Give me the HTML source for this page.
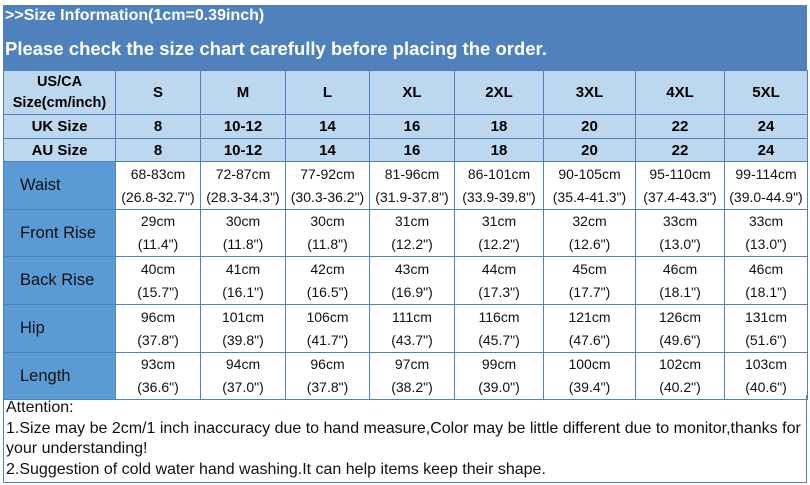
<!DOCTYPE html>
<html><head><meta charset="utf-8"><style>
*{margin:0;padding:0;box-sizing:border-box}
body{width:810px;height:485px;background:#fff;font-family:"Liberation Sans",Arial,sans-serif;position:relative;overflow:hidden}
.hd{position:absolute;left:3px;top:5px;width:804px;height:65px;background:#4f81bd;color:#fff;font-weight:bold}
.t1{position:absolute;left:2px;top:2px;font-size:16px}
.t2{position:absolute;left:2px;top:33px;font-size:18.5px}
table{position:absolute;left:3px;top:70px;border-collapse:collapse;table-layout:fixed}
td{border:1px solid #4f81bd;text-align:center;vertical-align:middle;padding:0}
.h td{background:#bdd7ee;font-weight:bold;font-size:15px;color:#000}
.h td.f{font-size:14.5px;line-height:21px}
.d td{font-size:14px;line-height:23px;color:#111}
.d td.l{background:#5b9bd5;color:#111;font-size:16.5px;text-align:left;padding-left:16px}
.att{position:absolute;left:3px;top:395px;width:804px;height:88px;border:1px solid #4f81bd;border-top:none;font-size:16px;line-height:20.7px;color:#111;padding-left:2px;padding-top:3px}
</style></head><body>
<div class="hd"><div class="t1">&gt;&gt;Size Information(1cm=0.39inch)</div><div class="t2">Please check the size chart carefully before placing the order.</div></div>
<table>
<colgroup><col style="width:112px"><col style="width:85px"><col style="width:85px"><col style="width:84px"><col style="width:85px"><col style="width:89px"><col style="width:92px"><col style="width:89px"><col style="width:83px"></colgroup>
<tr class="h" style="height:44px"><td class="f">US/CA<br>Size(cm/inch)</td><td>S</td><td>M</td><td>L</td><td>XL</td><td>2XL</td><td>3XL</td><td>4XL</td><td>5XL</td></tr>
<tr class="h" style="height:24px"><td>UK Size</td><td>8</td><td>10-12</td><td>14</td><td>16</td><td>18</td><td>20</td><td>22</td><td>24</td></tr>
<tr class="h" style="height:23px"><td>AU Size</td><td>8</td><td>10-12</td><td>14</td><td>16</td><td>18</td><td>20</td><td>22</td><td>24</td></tr>
<tr class="d" style="height:48px"><td class="l">Waist</td><td>68-83cm<br>(26.8-32.7")</td><td>72-87cm<br>(28.3-34.3")</td><td>77-92cm<br>(30.3-36.2")</td><td>81-96cm<br>(31.9-37.8")</td><td>86-101cm<br>(33.9-39.8")</td><td>90-105cm<br>(35.4-41.3")</td><td>95-110cm<br>(37.4-43.3")</td><td>99-114cm<br>(39.0-44.9")</td></tr>
<tr class="d" style="height:47px"><td class="l">Front Rise</td><td>29cm<br>(11.4")</td><td>30cm<br>(11.8")</td><td>30cm<br>(11.8")</td><td>31cm<br>(12.2")</td><td>31cm<br>(12.2")</td><td>32cm<br>(12.6")</td><td>33cm<br>(13.0")</td><td>33cm<br>(13.0")</td></tr>
<tr class="d" style="height:48px"><td class="l">Back Rise</td><td>40cm<br>(15.7")</td><td>41cm<br>(16.1")</td><td>42cm<br>(16.5")</td><td>43cm<br>(16.9")</td><td>44cm<br>(17.3")</td><td>45cm<br>(17.7")</td><td>46cm<br>(18.1")</td><td>46cm<br>(18.1")</td></tr>
<tr class="d" style="height:48px"><td class="l">Hip</td><td>96cm<br>(37.8")</td><td>101cm<br>(39.8")</td><td>106cm<br>(41.7")</td><td>111cm<br>(43.7")</td><td>116cm<br>(45.7")</td><td>121cm<br>(47.6")</td><td>126cm<br>(49.6")</td><td>131cm<br>(51.6")</td></tr>
<tr class="d" style="height:43px"><td class="l">Length</td><td>93cm<br>(36.6")</td><td>94cm<br>(37.0")</td><td>96cm<br>(37.8")</td><td>97cm<br>(38.2")</td><td>99cm<br>(39.0")</td><td>100cm<br>(39.4")</td><td>102cm<br>(40.2")</td><td>103cm<br>(40.6")</td></tr>
</table>
<div class="att">Attention:<br>1.Size may be 2cm/1 inch inaccuracy due to hand measure,Color may be little different due to monitor,thanks for your understanding!<br>2.Suggestion of cold water hand washing.It can help items keep their shape.</div>
</body></html>
